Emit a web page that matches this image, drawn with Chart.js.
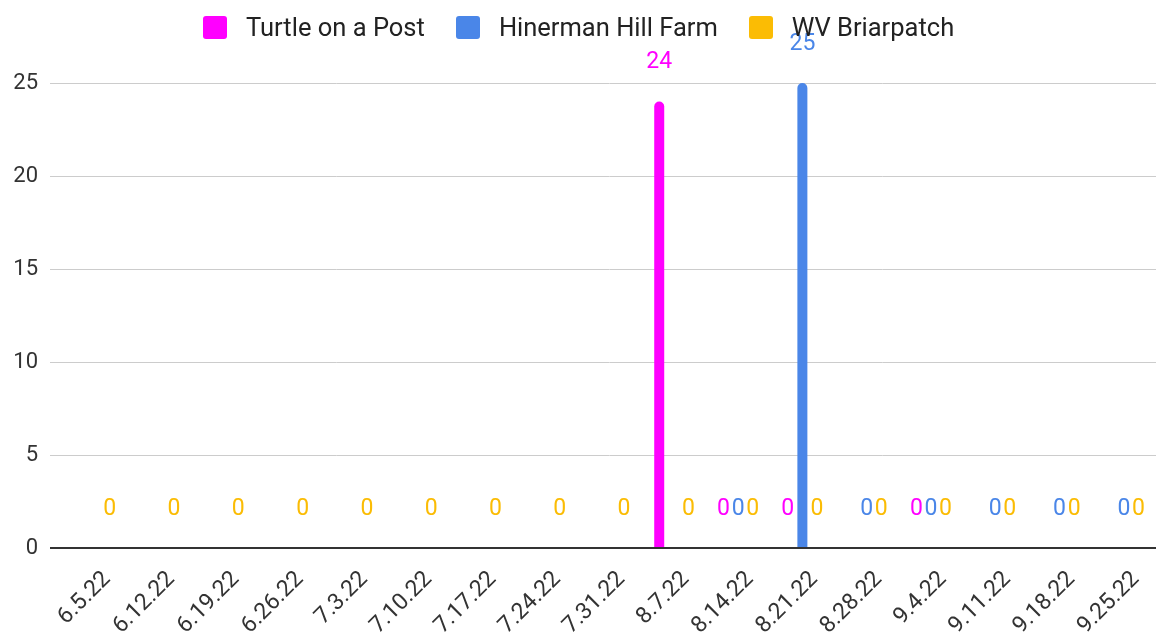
<!DOCTYPE html>
<html>
<head>
<meta charset="utf-8">
<script src="https://cdn.jsdelivr.net/npm/chart.js@4"></script>
<style>
  body { margin: 0; background: #fff; }
  #wrap { position: relative; width: 1159px; height: 637px; }
  #legend { position: absolute; left: 203px; top: 12px; display: flex; align-items: center;
            font-family: Roboto, Arial, sans-serif; font-size: 25.5px; color: #222; }
  .item { display: flex; align-items: center; margin-right: 31px; white-space: nowrap; }
  .box { width: 24px; height: 23px; border-radius: 3px; margin-right: 19px; }
</style>
</head>
<body>
<div id="wrap">
  <canvas id="chart" width="1159" height="637"></canvas>
  <div id="legend"></div>
</div>
<script>
const weeks = ['6.5.22', '6.12.22', '6.19.22', '6.26.22', '7.3.22', '7.10.22', '7.17.22', '7.24.22', '7.31.22',
  '8.7.22', '8.14.22', '8.21.22', '8.28.22', '9.4.22', '9.11.22', '9.18.22', '9.25.22'];
const turtle = [null, null, null, null, null, null, null, null, null, 24, 0, 0, null, 0, null, null, null];
const hinerman = [null, null, null, null, null, null, null, null, null, null, 0, 25, 0, 0, 0, 0, 0];
const briarpatch = [0, 0, 0, 0, 0, 0, 0, 0, 0, 0, 0, 0, 0, 0, 0, 0, 0];
const yTicks = [0, 5, 10, 15, 20, 25];

const names = ['Turtle on a Post', 'Hinerman Hill Farm', 'WV Briarpatch'];
const colors = ['#ff00ff', '#4a86e8', '#fbbc04'];

const legend = document.getElementById('legend');
names.forEach((n, i) => {
  legend.innerHTML += '<div class="item"><div class="box" style="background:' + colors[i] + '"></div>' + n + '</div>';
});

// value labels drawn above each bar end
const valueLabels = {
  id: 'valueLabels',
  afterDatasetsDraw(chart) {
    const c = chart.ctx;
    c.save();
    c.font = '23px Roboto, Arial, sans-serif';
    c.textAlign = 'center';
    c.textBaseline = 'middle';
    chart.data.datasets.forEach((ds, di) => {
      const meta = chart.getDatasetMeta(di);
      meta.data.forEach((el, i) => {
        const v = ds.data[i];
        if (v === null) return;
        c.fillStyle = ds.backgroundColor;
        c.fillText(String(v), el.x, el.y - 39);
      });
    });
    c.restore();
  }
};

const series = [turtle, hinerman, briarpatch];

new Chart(document.getElementById('chart'), {
  type: 'bar',
  data: {
    labels: weeks,
    datasets: series.map((d, i) => ({
      label: names[i],
      data: d,
      backgroundColor: colors[i],
      borderRadius: { topLeft: 5, topRight: 5 },
      categoryPercentage: 0.68,
      barPercentage: 0.9,
      maxBarThickness: 10
    }))
  },
  options: {
    responsive: false,
    animation: false,
    layout: { padding: { top: 83, right: 3 } },
    plugins: { legend: { display: false }, tooltip: { enabled: false } },
    scales: {
      x: {
        grid: { display: false },
        border: { display: false },
        ticks: {
          autoSkip: false, minRotation: 45, maxRotation: 45, labelOffset: 12, padding: 10,
          color: '#333', font: { family: 'Roboto, Arial, sans-serif', size: 23 }
        },
        afterFit(s) { s.height = 89; }
      },
      y: {
        min: 0, max: 25,
        afterBuildTicks(s) { s.ticks = yTicks.map(v => ({ value: v })); },
        grid: {
          color: ctx => ctx.tick && ctx.tick.value === 0 ? '#333' : '#ccc',
          lineWidth: ctx => ctx.tick && ctx.tick.value === 0 ? 2 : 1,
          tickLength: 13
        },
        border: { display: false },
        ticks: { padding: 12, color: '#333', font: { family: 'Roboto, Arial, sans-serif', size: 22 } },
        afterFit(s) { s.width = 63; }
      }
    }
  },
  plugins: [valueLabels]
});
</script>
</body>
</html>
